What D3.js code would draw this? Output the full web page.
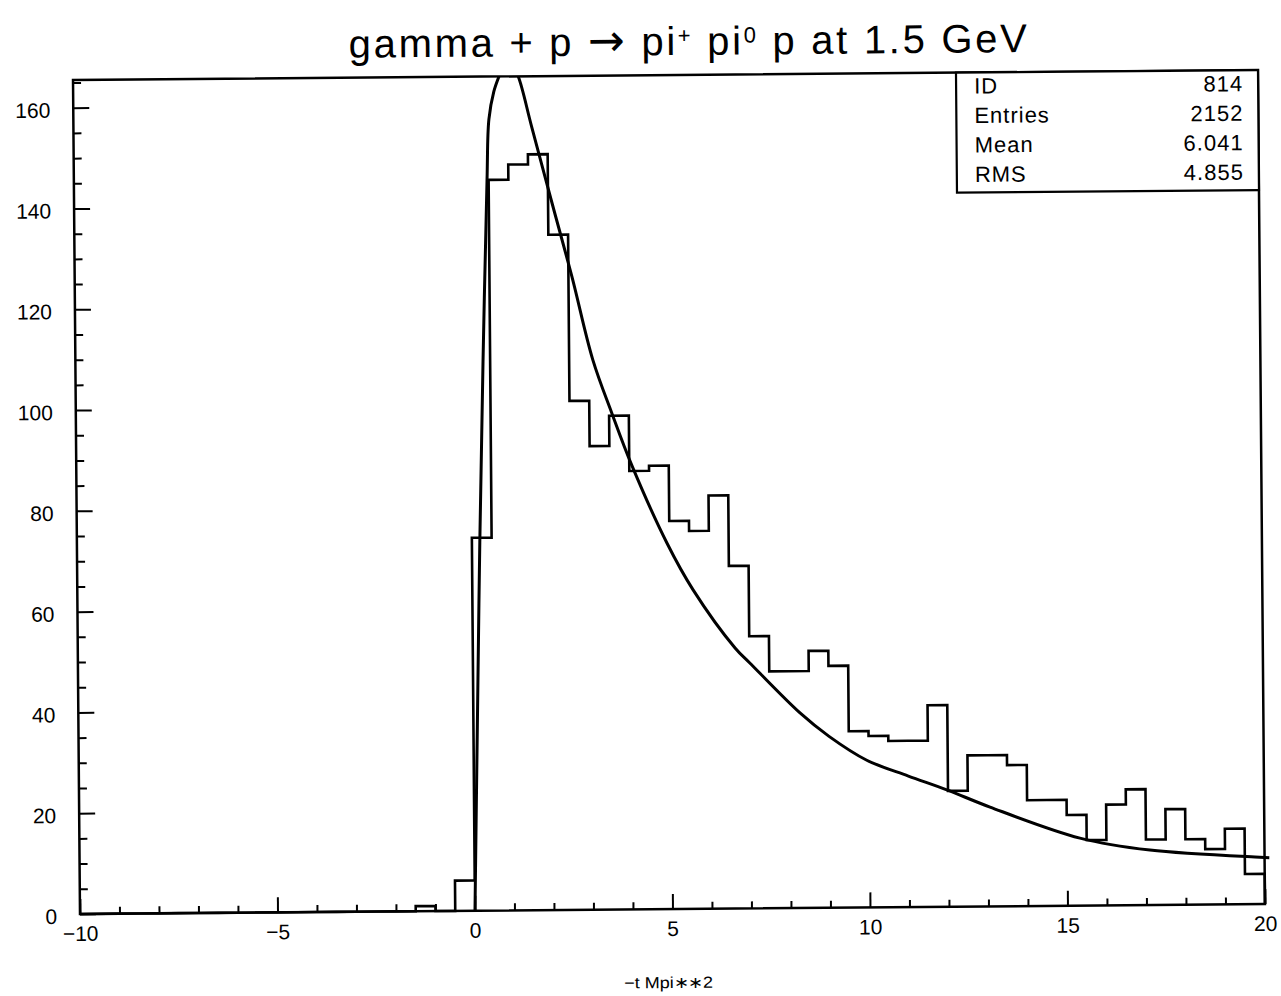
<!DOCTYPE html>
<html>
<head>
<meta charset="utf-8">
<script src="https://cdn.jsdelivr.net/npm/d3@7"></script>
<style>
  body { margin: 0; background: #fff; }
  svg { display: block; }
  text { font-family: "Liberation Sans", Arial, sans-serif; fill: #000; }
</style>
</head>
<body>
<svg id="chart" width="1281" height="996"></svg>
<script>
// ---- histogram 814: counts per 0.5-wide bin, from -10 to 20 ----
const binStart = -10;
const binWidth = 0.5;
const counts = [
  0, 0, 0, 0, 0, 0, 0, 0, 0, 0,
  0, 0, 0, 0, 0, 0, 0, 1, 0, 6,
  74, 145, 148, 150, 134, 101, 92, 98, 87, 88,
  77, 75, 82, 68, 54, 47, 47, 51, 48, 35,
  34, 33, 33, 40, 23, 30, 30, 28, 21, 21,
  18, 13, 20, 23, 13, 19, 13, 11, 15, 6
];

// ---- fitted curve (sampled points) ----
const fitT = [0, 0.1, 0.2, 0.32, 0.46, 0.52, 0.65, 0.81, 0.95, 1.1, 1.27, 1.6, 2.1, 2.59, 3.1,
              3.57, 4.06, 4.94, 5.59, 6.64, 7.01, 8.27, 9.0, 9.95, 11.0, 11.97, 13.06, 15.33, 17.1, 19.88, 20.12];
const fitV = [0, 37, 73, 109, 145, 157, 162.5, 166, 168.5, 168, 165.5, 155.5, 140.3, 125.6, 109.1,
              98.5, 88.2, 72.6, 63.3, 51.7, 48.7, 38.7, 34.0, 29.2, 26.0, 23.2, 19.7, 13.4, 10.9, 9.3, 9.2];

// ---- axes ----
const xDomain = [-10, 20];
const yMax = 165.5;
const xMajorTicks = [-10, -5, 0, 5, 10, 15, 20];
const xMinorTicks = [-9, -8, -7, -6, -4, -3, -2, -1, 1, 2, 3, 4, 6, 7, 8, 9, 11, 12, 13, 14, 16, 17, 18, 19];
const yMajorTicks = [0, 20, 40, 60, 80, 100, 120, 140, 160];
const yMinorTicks = [5, 10, 15, 25, 30, 35, 45, 50, 55, 65, 70, 75, 85, 90, 95, 105, 110, 115, 125, 130, 135, 145, 150, 155, 165];

// ---- statistics box ----
const statNames = ["ID", "Entries", "Mean", "RMS"];
const statValues = ["814", "2152", "6.041", "4.855"];

const titleParts = [
  { t: "gamma + p ", kind: "text" },
  { t: "\u2192", kind: "arrow" },
  { t: " pi", kind: "text" },
  { t: "+", kind: "sup" },
  { t: " pi", kind: "text" },
  { t: "0", kind: "sup" },
  { t: " p at 1.5 GeV", kind: "text" }
];
const xTitle = "\u2212t Mpi\u2217\u22172";

// ---- layout ----
const plot = { left: 80, right: 1265, top: 80, bottom: 914 };
const tilt = -0.48;

const x = d3.scaleLinear().domain(xDomain).range([plot.left, plot.right]);
const y = d3.scaleLinear().domain([0, yMax]).range([plot.bottom, plot.top]);

const svg = d3.select("#chart");
const g = svg.append("g")
  .attr("transform", `rotate(${tilt},${plot.left},${plot.bottom})`);

// clip for the fitted curve (top edge of the frame)
svg.append("defs").append("clipPath").attr("id", "plotClip")
  .append("rect")
  .attr("x", plot.left - 2).attr("y", plot.top)
  .attr("width", plot.right - plot.left + 10).attr("height", plot.bottom - plot.top);

// ---- y axis ----
const yAxisMajor = d3.axisLeft(y).tickValues(yMajorTicks)
  .tickSizeInner(-16).tickSizeOuter(0).tickPadding(23)
  .tickFormat(d3.format("d"));
const yAxisMinor = d3.axisLeft(y).tickValues(yMinorTicks)
  .tickSizeInner(-8).tickSizeOuter(0).tickFormat("");

const gyMinor = g.append("g").attr("transform", `translate(${plot.left},0)`).call(yAxisMinor);
const gyMajor = g.append("g").attr("transform", `translate(${plot.left},0)`).call(yAxisMajor);

// ---- x axis ----
const xAxisMajor = d3.axisBottom(x).tickValues(xMajorTicks)
  .tickSizeInner(-15).tickSizeOuter(0).tickPadding(12)
  .tickFormat(d => d < 0 ? "\u2212" + Math.abs(d) : String(d));
const xAxisMinor = d3.axisBottom(x).tickValues(xMinorTicks)
  .tickSizeInner(-7).tickSizeOuter(0).tickFormat("");

const gxMinor = g.append("g").attr("transform", `translate(0,${plot.bottom})`).call(xAxisMinor);
const gxMajor = g.append("g").attr("transform", `translate(0,${plot.bottom})`).call(xAxisMajor);

[gyMinor, gyMajor, gxMinor, gxMajor].forEach(a => {
  a.select(".domain").remove();
  a.selectAll(".tick line").attr("stroke", "#000").attr("stroke-width", 2);
  a.attr("font-family", null).attr("font-size", null);
});
gyMajor.selectAll(".tick text").style("font-size", "21px").attr("dy", "0.44em");
gxMajor.selectAll(".tick text").style("font-size", "21px");

// ---- histogram outline ----
const histPts = [[binStart, 0]];
counts.forEach((c, i) => {
  const lo = binStart + i * binWidth;
  histPts.push([lo, c], [lo + binWidth, c]);
});
histPts.push([binStart + counts.length * binWidth, 0]);

g.append("path")
  .datum(histPts)
  .attr("fill", "none")
  .attr("stroke", "#000")
  .attr("stroke-width", 2.6)
  .attr("stroke-linejoin", "miter")
  .attr("d", d3.line().x(d => x(d[0])).y(d => y(d[1])));

// ---- fitted curve ----
const fitPts = fitT.map((t, i) => [t, fitV[i]]);
g.append("g").attr("clip-path", "url(#plotClip)")
  .append("path")
  .datum(fitPts)
  .attr("fill", "none")
  .attr("stroke", "#000")
  .attr("stroke-width", 3)
  .attr("d", d3.line().x(d => x(d[0])).y(d => y(d[1])).curve(d3.curveCatmullRom.alpha(0.5)));

// ---- frame ----
g.append("rect")
  .attr("x", plot.left).attr("y", plot.top)
  .attr("width", plot.right - plot.left).attr("height", plot.bottom - plot.top)
  .attr("fill", "none").attr("stroke", "#000").attr("stroke-width", 2.5);

// ---- statistics box ----
const box = { left: 963, top: plot.top, right: plot.right, bottom: 200 };
g.append("rect")
  .attr("x", box.left).attr("y", box.top)
  .attr("width", box.right - box.left).attr("height", box.bottom - box.top)
  .attr("fill", "#fff").attr("stroke", "#000").attr("stroke-width", 2.2);

const rowBase = [101, 130.5, 160, 189.5];
statNames.forEach((n, i) => {
  g.append("text").attr("x", 981).attr("y", rowBase[i])
    .style("font-size", "22px").style("letter-spacing", "1px").text(n);
  g.append("text").attr("x", 1250).attr("y", rowBase[i])
    .attr("text-anchor", "end")
    .style("font-size", "22px").style("letter-spacing", "1px").text(statValues[i]);
});

// ---- title ----
const title = g.append("text")
  .attr("x", 695).attr("y", 60)
  .attr("text-anchor", "middle")
  .attr("textLength", 678).attr("lengthAdjust", "spacing")
  .style("font-size", "40px");
titleParts.forEach(p => {
  const s = title.append("tspan").text(p.t);
  if (p.kind === "sup") s.attr("baseline-shift", "super").style("font-size", "22px");
  if (p.kind === "arrow") s.style("font-family", "'DejaVu Sans', sans-serif").style("font-size", "44px");
});

// ---- x axis title ----
g.append("text")
  .attr("x", 668).attr("y", 993)
  .attr("text-anchor", "middle")
  .attr("textLength", 89).attr("lengthAdjust", "spacingAndGlyphs")
  .style("font-size", "16px")
  .text(xTitle);
</script>
</body>
</html>
